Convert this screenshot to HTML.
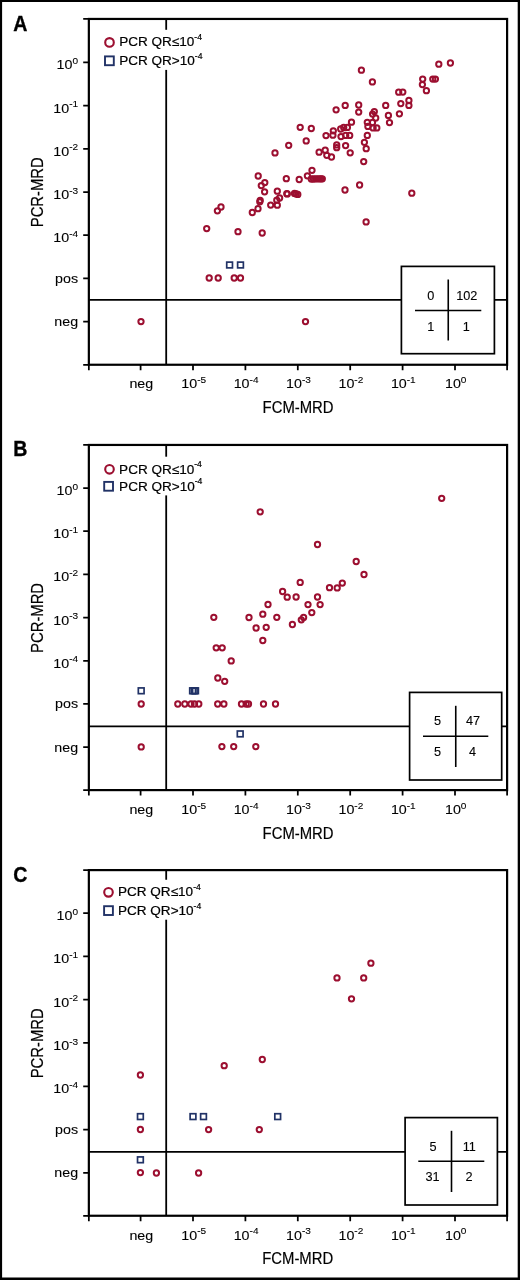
<!DOCTYPE html>
<html lang="en"><head><meta charset="utf-8"><title>PCR-MRD vs FCM-MRD</title>
<style>html,body{margin:0;padding:0;background:#fff}svg{display:block}text{font-family:'Liberation Sans', sans-serif;fill:#000}</style></head><body>
<svg width="520" height="1280" viewBox="0 0 520 1280">
<rect x="0" y="0" width="520" height="1280" fill="#fff"/>
<rect x="0" y="0" width="520" height="2" fill="#000"/>
<rect x="0" y="0" width="2.1" height="1280" fill="#000"/>
<rect x="517.7" y="0" width="2.3" height="1280" fill="#000"/>
<rect x="0" y="1277.5" width="520" height="2.5" fill="#000"/>
<g>
<text transform="translate(13.3 30.9) scale(0.92 1)" font-size="21.3" text-anchor="start" font-weight="bold" stroke="#000" stroke-width="0.35">A</text>
<line x1="88.85" y1="299.9" x2="507.1" y2="299.9" stroke="#000" stroke-width="1.8"/>
<line x1="166.2" y1="18.95" x2="166.2" y2="364.75" stroke="#000" stroke-width="1.8"/>
<rect x="100" y="29.8" width="112" height="40.1" fill="#fff"/>
<rect x="88.85" y="18.95" width="418.25" height="345.8" fill="none" stroke="#000" stroke-width="2.2"/>
<path d="M83.2 18.95H88.85M83.2 62.4H88.85M83.2 105.6H88.85M83.2 148.8H88.85M83.2 192H88.85M83.2 235.2H88.85M83.2 278.4H88.85M83.2 321.6H88.85M83.2 364.75H88.85" stroke="#000" stroke-width="1.75" fill="none"/>
<path d="M88.85 364.75V370.15M140.6 364.75V370.15M193 364.75V370.15M245.4 364.75V370.15M297.8 364.75V370.15M350.2 364.75V370.15M402.6 364.75V370.15M455 364.75V370.15M507.1 364.75V370.15" stroke="#000" stroke-width="1.75" fill="none"/>
<text transform="translate(78.1 69.4) scale(1.05 1)" font-size="13.6" text-anchor="end" stroke="#000" stroke-width="0.1">10<tspan font-size="9.6" dy="-5.4">0</tspan></text>
<text transform="translate(78.1 112.6) scale(1.05 1)" font-size="13.6" text-anchor="end" stroke="#000" stroke-width="0.1">10<tspan font-size="9.6" dy="-5.4">-1</tspan></text>
<text transform="translate(78.1 155.8) scale(1.05 1)" font-size="13.6" text-anchor="end" stroke="#000" stroke-width="0.1">10<tspan font-size="9.6" dy="-5.4">-2</tspan></text>
<text transform="translate(78.1 199) scale(1.05 1)" font-size="13.6" text-anchor="end" stroke="#000" stroke-width="0.1">10<tspan font-size="9.6" dy="-5.4">-3</tspan></text>
<text transform="translate(78.1 242.2) scale(1.05 1)" font-size="13.6" text-anchor="end" stroke="#000" stroke-width="0.1">10<tspan font-size="9.6" dy="-5.4">-4</tspan></text>
<text transform="translate(78.1 282.8) scale(1.05 1)" font-size="13.6" text-anchor="end" stroke="#000" stroke-width="0.1">pos</text>
<text transform="translate(78.1 326) scale(1.05 1)" font-size="13.6" text-anchor="end" stroke="#000" stroke-width="0.1">neg</text>
<text transform="translate(141.3 388.3) scale(1.05 1)" font-size="13.6" text-anchor="middle" stroke="#000" stroke-width="0.1">neg</text>
<text transform="translate(193.7 388.3) scale(1.05 1)" font-size="13.6" text-anchor="middle" stroke="#000" stroke-width="0.1">10<tspan font-size="9.6" dy="-5.4">-5</tspan></text>
<text transform="translate(246.1 388.3) scale(1.05 1)" font-size="13.6" text-anchor="middle" stroke="#000" stroke-width="0.1">10<tspan font-size="9.6" dy="-5.4">-4</tspan></text>
<text transform="translate(298.5 388.3) scale(1.05 1)" font-size="13.6" text-anchor="middle" stroke="#000" stroke-width="0.1">10<tspan font-size="9.6" dy="-5.4">-3</tspan></text>
<text transform="translate(350.9 388.3) scale(1.05 1)" font-size="13.6" text-anchor="middle" stroke="#000" stroke-width="0.1">10<tspan font-size="9.6" dy="-5.4">-2</tspan></text>
<text transform="translate(403.3 388.3) scale(1.05 1)" font-size="13.6" text-anchor="middle" stroke="#000" stroke-width="0.1">10<tspan font-size="9.6" dy="-5.4">-1</tspan></text>
<text transform="translate(455.7 388.3) scale(1.05 1)" font-size="13.6" text-anchor="middle" stroke="#000" stroke-width="0.1">10<tspan font-size="9.6" dy="-5.4">0</tspan></text>
<text x="298.1" y="412.55" font-size="17.3" text-anchor="middle" textLength="71" lengthAdjust="spacingAndGlyphs" stroke="#000" stroke-width="0.2">FCM-MRD</text>
<text transform="translate(43 192.25) rotate(-90)" font-size="17.2" text-anchor="middle" textLength="70" lengthAdjust="spacingAndGlyphs" stroke="#000" stroke-width="0.2">PCR-MRD</text>
<circle cx="109.5" cy="42.4" r="4.3" fill="none" stroke="#9c0f30" stroke-width="2.1"/>
<rect x="105" y="56.4" width="8.8" height="8.8" fill="none" stroke="#213266" stroke-width="1.9"/>
<text transform="translate(119.2 46.05) scale(1.05 1)" font-size="12.9" text-anchor="start" stroke="#000" stroke-width="0.2">PCR QR≤10<tspan font-size="8.2" dy="-6.5">-4</tspan></text>
<text transform="translate(119.2 65) scale(1.05 1)" font-size="12.9" text-anchor="start" stroke="#000" stroke-width="0.2">PCR QR&gt;10<tspan font-size="8.2" dy="-6.5">-4</tspan></text>
<g fill="none" stroke="#9c0f30" stroke-width="2">
<circle cx="141" cy="321.6" r="2.65"/>
<circle cx="305.5" cy="321.6" r="2.65"/>
<circle cx="209.2" cy="278" r="2.65"/>
<circle cx="218.2" cy="278" r="2.65"/>
<circle cx="234.2" cy="278" r="2.65"/>
<circle cx="240.5" cy="278" r="2.65"/>
<circle cx="206.7" cy="228.6" r="2.65"/>
<circle cx="238" cy="231.7" r="2.65"/>
<circle cx="262.2" cy="233" r="2.65"/>
<circle cx="221" cy="207" r="2.65"/>
<circle cx="217.4" cy="210.8" r="2.65"/>
<circle cx="252.3" cy="212.5" r="2.65"/>
<circle cx="258" cy="208.7" r="2.65"/>
<circle cx="260.2" cy="200.3" r="2.65"/>
<circle cx="259.8" cy="201.8" r="2.65"/>
<circle cx="270.7" cy="205.1" r="2.65"/>
<circle cx="277.3" cy="205.2" r="2.65"/>
<circle cx="276.8" cy="200.2" r="2.65"/>
<circle cx="279.6" cy="198" r="2.65"/>
<circle cx="277.3" cy="191.2" r="2.65"/>
<circle cx="264.6" cy="191.8" r="2.65"/>
<circle cx="261.3" cy="185.6" r="2.65"/>
<circle cx="264.8" cy="182.6" r="2.65"/>
<circle cx="258.2" cy="176" r="2.65"/>
<circle cx="275" cy="152.9" r="2.65"/>
<circle cx="286.3" cy="178.7" r="2.65"/>
<circle cx="299.2" cy="179.5" r="2.65"/>
<circle cx="286.8" cy="193.7" r="2.65"/>
<circle cx="287.3" cy="193.9" r="2.65"/>
<circle cx="294.5" cy="193.4" r="2.65"/>
<circle cx="296.2" cy="193.9" r="2.65"/>
<circle cx="297.8" cy="194.4" r="2.65"/>
<circle cx="307.4" cy="175.8" r="2.65"/>
<circle cx="312" cy="170.3" r="2.65"/>
<circle cx="311.3" cy="179" r="2.65"/>
<circle cx="313.5" cy="179" r="2.65"/>
<circle cx="315.6" cy="178.8" r="2.65"/>
<circle cx="317.5" cy="178.8" r="2.65"/>
<circle cx="319.4" cy="178.8" r="2.65"/>
<circle cx="321" cy="178.8" r="2.65"/>
<circle cx="322.3" cy="178.8" r="2.65"/>
<circle cx="345" cy="190" r="2.65"/>
<circle cx="359.6" cy="185" r="2.65"/>
<circle cx="411.8" cy="193.2" r="2.65"/>
<circle cx="366.1" cy="221.9" r="2.65"/>
<circle cx="363.7" cy="161.6" r="2.65"/>
<circle cx="350.2" cy="152.8" r="2.65"/>
<circle cx="331.5" cy="157" r="2.65"/>
<circle cx="326.8" cy="155.3" r="2.65"/>
<circle cx="319.1" cy="152.2" r="2.65"/>
<circle cx="325.2" cy="150.2" r="2.65"/>
<circle cx="336.7" cy="144.9" r="2.65"/>
<circle cx="336.7" cy="147.7" r="2.65"/>
<circle cx="345.6" cy="145.6" r="2.65"/>
<circle cx="366.2" cy="148.7" r="2.65"/>
<circle cx="364.4" cy="142.3" r="2.65"/>
<circle cx="288.7" cy="145.3" r="2.65"/>
<circle cx="306.2" cy="140.9" r="2.65"/>
<circle cx="300.2" cy="127.3" r="2.65"/>
<circle cx="311.3" cy="128.5" r="2.65"/>
<circle cx="326" cy="135.6" r="2.65"/>
<circle cx="333.3" cy="130.8" r="2.65"/>
<circle cx="332.9" cy="135.2" r="2.65"/>
<circle cx="340.7" cy="129" r="2.65"/>
<circle cx="343.7" cy="127.5" r="2.65"/>
<circle cx="347.4" cy="127.4" r="2.65"/>
<circle cx="341" cy="136.6" r="2.65"/>
<circle cx="345.7" cy="135.4" r="2.65"/>
<circle cx="349.7" cy="135.4" r="2.65"/>
<circle cx="351.5" cy="122.2" r="2.65"/>
<circle cx="336.1" cy="109.8" r="2.65"/>
<circle cx="345.2" cy="105.4" r="2.65"/>
<circle cx="358.7" cy="105" r="2.65"/>
<circle cx="358.7" cy="112.1" r="2.65"/>
<circle cx="361.4" cy="70.2" r="2.65"/>
<circle cx="372.4" cy="81.9" r="2.65"/>
<circle cx="374.3" cy="111.6" r="2.65"/>
<circle cx="372.6" cy="114.1" r="2.65"/>
<circle cx="375.7" cy="118" r="2.65"/>
<circle cx="367.3" cy="122.3" r="2.65"/>
<circle cx="372.5" cy="122.5" r="2.65"/>
<circle cx="367.9" cy="126.4" r="2.65"/>
<circle cx="373.1" cy="127.9" r="2.65"/>
<circle cx="376.8" cy="127.9" r="2.65"/>
<circle cx="367.3" cy="135.4" r="2.65"/>
<circle cx="385.7" cy="105.4" r="2.65"/>
<circle cx="388.4" cy="115.4" r="2.65"/>
<circle cx="389.5" cy="122.6" r="2.65"/>
<circle cx="398.7" cy="92.2" r="2.65"/>
<circle cx="402.8" cy="92.1" r="2.65"/>
<circle cx="400.8" cy="103.6" r="2.65"/>
<circle cx="399.4" cy="113.8" r="2.65"/>
<circle cx="408.9" cy="100.5" r="2.65"/>
<circle cx="408.9" cy="105.4" r="2.65"/>
<circle cx="422.7" cy="79.1" r="2.65"/>
<circle cx="422.4" cy="84.6" r="2.65"/>
<circle cx="426.4" cy="90.7" r="2.65"/>
<circle cx="432.8" cy="79.1" r="2.65"/>
<circle cx="435.4" cy="79.1" r="2.65"/>
<circle cx="438.8" cy="64.2" r="2.65"/>
<circle cx="450.4" cy="63" r="2.65"/>
</g>
<g fill="none" stroke="#213266" stroke-width="1.7">
<rect x="226.72" y="262.12" width="5.75" height="5.75"/>
<rect x="237.62" y="262.12" width="5.75" height="5.75"/>
</g>
<rect x="401.4" y="266.4" width="93" height="87.3" fill="#fff" stroke="#000" stroke-width="1.7"/>
<line x1="448.25" y1="279.5" x2="448.25" y2="340.5" stroke="#000" stroke-width="1.6"/>
<line x1="415" y1="310.5" x2="481.3" y2="310.5" stroke="#000" stroke-width="1.6"/>
<text transform="translate(430.8 300) scale(1.06 1)" font-size="12" text-anchor="middle" stroke="#000" stroke-width="0.1">0</text>
<text transform="translate(466.8 300) scale(1.06 1)" font-size="12" text-anchor="middle" stroke="#000" stroke-width="0.1">102</text>
<text transform="translate(430.8 330.5) scale(1.06 1)" font-size="12" text-anchor="middle" stroke="#000" stroke-width="0.1">1</text>
<text transform="translate(466.3 330.5) scale(1.06 1)" font-size="12" text-anchor="middle" stroke="#000" stroke-width="0.1">1</text>
</g>
<g>
<text transform="translate(13.3 456) scale(0.92 1)" font-size="21.3" text-anchor="start" font-weight="bold" stroke="#000" stroke-width="0.35">B</text>
<line x1="88.85" y1="726.45" x2="507.1" y2="726.45" stroke="#000" stroke-width="1.8"/>
<line x1="166.2" y1="444.95" x2="166.2" y2="790.1" stroke="#000" stroke-width="1.8"/>
<rect x="100" y="456.7" width="112" height="38.7" fill="#fff"/>
<rect x="88.85" y="444.95" width="418.25" height="345.15" fill="none" stroke="#000" stroke-width="2.2"/>
<path d="M83.2 444.95H88.85M83.2 488.05H88.85M83.2 531.23H88.85M83.2 574.41H88.85M83.2 617.59H88.85M83.2 660.77H88.85M83.2 703.95H88.85M83.2 747.13H88.85M83.2 790.1H88.85" stroke="#000" stroke-width="1.75" fill="none"/>
<path d="M88.85 790.1V795.5M140.6 790.1V795.5M193 790.1V795.5M245.4 790.1V795.5M297.8 790.1V795.5M350.2 790.1V795.5M402.6 790.1V795.5M455 790.1V795.5M507.1 790.1V795.5" stroke="#000" stroke-width="1.75" fill="none"/>
<text transform="translate(78.1 495.05) scale(1.05 1)" font-size="13.6" text-anchor="end" stroke="#000" stroke-width="0.1">10<tspan font-size="9.6" dy="-5.4">0</tspan></text>
<text transform="translate(78.1 538.23) scale(1.05 1)" font-size="13.6" text-anchor="end" stroke="#000" stroke-width="0.1">10<tspan font-size="9.6" dy="-5.4">-1</tspan></text>
<text transform="translate(78.1 581.41) scale(1.05 1)" font-size="13.6" text-anchor="end" stroke="#000" stroke-width="0.1">10<tspan font-size="9.6" dy="-5.4">-2</tspan></text>
<text transform="translate(78.1 624.59) scale(1.05 1)" font-size="13.6" text-anchor="end" stroke="#000" stroke-width="0.1">10<tspan font-size="9.6" dy="-5.4">-3</tspan></text>
<text transform="translate(78.1 667.77) scale(1.05 1)" font-size="13.6" text-anchor="end" stroke="#000" stroke-width="0.1">10<tspan font-size="9.6" dy="-5.4">-4</tspan></text>
<text transform="translate(78.1 708.35) scale(1.05 1)" font-size="13.6" text-anchor="end" stroke="#000" stroke-width="0.1">pos</text>
<text transform="translate(78.1 751.53) scale(1.05 1)" font-size="13.6" text-anchor="end" stroke="#000" stroke-width="0.1">neg</text>
<text transform="translate(141.3 814.35) scale(1.05 1)" font-size="13.6" text-anchor="middle" stroke="#000" stroke-width="0.1">neg</text>
<text transform="translate(193.7 814.35) scale(1.05 1)" font-size="13.6" text-anchor="middle" stroke="#000" stroke-width="0.1">10<tspan font-size="9.6" dy="-5.4">-5</tspan></text>
<text transform="translate(246.1 814.35) scale(1.05 1)" font-size="13.6" text-anchor="middle" stroke="#000" stroke-width="0.1">10<tspan font-size="9.6" dy="-5.4">-4</tspan></text>
<text transform="translate(298.5 814.35) scale(1.05 1)" font-size="13.6" text-anchor="middle" stroke="#000" stroke-width="0.1">10<tspan font-size="9.6" dy="-5.4">-3</tspan></text>
<text transform="translate(350.9 814.35) scale(1.05 1)" font-size="13.6" text-anchor="middle" stroke="#000" stroke-width="0.1">10<tspan font-size="9.6" dy="-5.4">-2</tspan></text>
<text transform="translate(403.3 814.35) scale(1.05 1)" font-size="13.6" text-anchor="middle" stroke="#000" stroke-width="0.1">10<tspan font-size="9.6" dy="-5.4">-1</tspan></text>
<text transform="translate(455.7 814.35) scale(1.05 1)" font-size="13.6" text-anchor="middle" stroke="#000" stroke-width="0.1">10<tspan font-size="9.6" dy="-5.4">0</tspan></text>
<text x="298.1" y="838.8" font-size="17.3" text-anchor="middle" textLength="71" lengthAdjust="spacingAndGlyphs" stroke="#000" stroke-width="0.2">FCM-MRD</text>
<text transform="translate(43 617.92) rotate(-90)" font-size="17.2" text-anchor="middle" textLength="70" lengthAdjust="spacingAndGlyphs" stroke="#000" stroke-width="0.2">PCR-MRD</text>
<circle cx="109.5" cy="469.3" r="4.3" fill="none" stroke="#9c0f30" stroke-width="2.1"/>
<rect x="104.2" y="481.9" width="8.8" height="8.8" fill="none" stroke="#213266" stroke-width="1.9"/>
<text transform="translate(119.1 473.5) scale(1.05 1)" font-size="12.9" text-anchor="start" stroke="#000" stroke-width="0.2">PCR QR≤10<tspan font-size="8.2" dy="-6.5">-4</tspan></text>
<text transform="translate(119.1 490.5) scale(1.05 1)" font-size="12.9" text-anchor="start" stroke="#000" stroke-width="0.2">PCR QR&gt;10<tspan font-size="8.2" dy="-6.5">-4</tspan></text>
<g fill="none" stroke="#9c0f30" stroke-width="2">
<circle cx="141.2" cy="704" r="2.65"/>
<circle cx="141.2" cy="746.9" r="2.65"/>
<circle cx="177.8" cy="704" r="2.65"/>
<circle cx="184.8" cy="704" r="2.65"/>
<circle cx="191" cy="704" r="2.65"/>
<circle cx="194.5" cy="704" r="2.65"/>
<circle cx="198.8" cy="704" r="2.65"/>
<circle cx="217.7" cy="704" r="2.65"/>
<circle cx="223.9" cy="704" r="2.65"/>
<circle cx="241.5" cy="704" r="2.65"/>
<circle cx="246.2" cy="704" r="2.65"/>
<circle cx="248.5" cy="704" r="2.65"/>
<circle cx="263.5" cy="704" r="2.65"/>
<circle cx="275.5" cy="704" r="2.65"/>
<circle cx="221.9" cy="746.6" r="2.65"/>
<circle cx="233.7" cy="746.6" r="2.65"/>
<circle cx="255.8" cy="746.6" r="2.65"/>
<circle cx="217.8" cy="678" r="2.65"/>
<circle cx="224.7" cy="681.3" r="2.65"/>
<circle cx="231.2" cy="660.9" r="2.65"/>
<circle cx="216.2" cy="647.8" r="2.65"/>
<circle cx="222.2" cy="647.8" r="2.65"/>
<circle cx="213.8" cy="617.3" r="2.65"/>
<circle cx="249" cy="617.5" r="2.65"/>
<circle cx="262.8" cy="614.2" r="2.65"/>
<circle cx="268" cy="604.5" r="2.65"/>
<circle cx="276.8" cy="617.3" r="2.65"/>
<circle cx="256.1" cy="628" r="2.65"/>
<circle cx="266.2" cy="627.3" r="2.65"/>
<circle cx="262.8" cy="640.5" r="2.65"/>
<circle cx="292.4" cy="624.5" r="2.65"/>
<circle cx="301.3" cy="619.8" r="2.65"/>
<circle cx="303.6" cy="617.4" r="2.65"/>
<circle cx="311.8" cy="612.6" r="2.65"/>
<circle cx="308" cy="604.6" r="2.65"/>
<circle cx="320.1" cy="604.6" r="2.65"/>
<circle cx="317.5" cy="597" r="2.65"/>
<circle cx="296.1" cy="597" r="2.65"/>
<circle cx="287.2" cy="597.2" r="2.65"/>
<circle cx="282.6" cy="591.5" r="2.65"/>
<circle cx="300.2" cy="582.4" r="2.65"/>
<circle cx="329.5" cy="587.7" r="2.65"/>
<circle cx="337.2" cy="587.9" r="2.65"/>
<circle cx="342.3" cy="583.1" r="2.65"/>
<circle cx="356.2" cy="561.5" r="2.65"/>
<circle cx="364" cy="574.5" r="2.65"/>
<circle cx="317.5" cy="544.5" r="2.65"/>
<circle cx="260.2" cy="511.8" r="2.65"/>
<circle cx="441.7" cy="498.3" r="2.65"/>
</g>
<g fill="none" stroke="#213266" stroke-width="1.7">
<rect x="138.32" y="687.92" width="5.75" height="5.75"/>
<rect x="189.72" y="687.92" width="5.75" height="5.75"/>
<rect x="191.32" y="687.92" width="5.75" height="5.75"/>
<rect x="192.62" y="687.92" width="5.75" height="5.75"/>
<rect x="237.32" y="731.02" width="5.75" height="5.75"/>
</g>
<rect x="409.6" y="692.4" width="92.1" height="87.6" fill="#fff" stroke="#000" stroke-width="1.7"/>
<line x1="455.75" y1="705.8" x2="455.75" y2="767" stroke="#000" stroke-width="1.6"/>
<line x1="423" y1="736.25" x2="488.3" y2="736.25" stroke="#000" stroke-width="1.6"/>
<text transform="translate(437.5 725) scale(1.06 1)" font-size="12" text-anchor="middle" stroke="#000" stroke-width="0.1">5</text>
<text transform="translate(473 725) scale(1.06 1)" font-size="12" text-anchor="middle" stroke="#000" stroke-width="0.1">47</text>
<text transform="translate(437.5 756.2) scale(1.06 1)" font-size="12" text-anchor="middle" stroke="#000" stroke-width="0.1">5</text>
<text transform="translate(472.5 756.2) scale(1.06 1)" font-size="12" text-anchor="middle" stroke="#000" stroke-width="0.1">4</text>
</g>
<g>
<text transform="translate(13.3 882.4) scale(0.92 1)" font-size="21.3" text-anchor="start" font-weight="bold" stroke="#000" stroke-width="0.35">C</text>
<line x1="88.85" y1="1151.95" x2="507.1" y2="1151.95" stroke="#000" stroke-width="1.8"/>
<line x1="166.2" y1="870.1" x2="166.2" y2="1215.75" stroke="#000" stroke-width="1.8"/>
<rect x="100" y="879.75" width="112" height="39.95" fill="#fff"/>
<rect x="88.85" y="870.1" width="418.25" height="345.65" fill="none" stroke="#000" stroke-width="2.2"/>
<path d="M83.2 870.1H88.85M83.2 913.1H88.85M83.2 956.39H88.85M83.2 999.68H88.85M83.2 1042.97H88.85M83.2 1086.26H88.85M83.2 1129.55H88.85M83.2 1172.84H88.85M83.2 1215.75H88.85" stroke="#000" stroke-width="1.75" fill="none"/>
<path d="M88.85 1215.75V1221.15M140.6 1215.75V1221.15M193 1215.75V1221.15M245.4 1215.75V1221.15M297.8 1215.75V1221.15M350.2 1215.75V1221.15M402.6 1215.75V1221.15M455 1215.75V1221.15M507.1 1215.75V1221.15" stroke="#000" stroke-width="1.75" fill="none"/>
<text transform="translate(78.1 920.1) scale(1.05 1)" font-size="13.6" text-anchor="end" stroke="#000" stroke-width="0.1">10<tspan font-size="9.6" dy="-5.4">0</tspan></text>
<text transform="translate(78.1 963.39) scale(1.05 1)" font-size="13.6" text-anchor="end" stroke="#000" stroke-width="0.1">10<tspan font-size="9.6" dy="-5.4">-1</tspan></text>
<text transform="translate(78.1 1006.68) scale(1.05 1)" font-size="13.6" text-anchor="end" stroke="#000" stroke-width="0.1">10<tspan font-size="9.6" dy="-5.4">-2</tspan></text>
<text transform="translate(78.1 1049.97) scale(1.05 1)" font-size="13.6" text-anchor="end" stroke="#000" stroke-width="0.1">10<tspan font-size="9.6" dy="-5.4">-3</tspan></text>
<text transform="translate(78.1 1093.26) scale(1.05 1)" font-size="13.6" text-anchor="end" stroke="#000" stroke-width="0.1">10<tspan font-size="9.6" dy="-5.4">-4</tspan></text>
<text transform="translate(78.1 1133.95) scale(1.05 1)" font-size="13.6" text-anchor="end" stroke="#000" stroke-width="0.1">pos</text>
<text transform="translate(78.1 1177.24) scale(1.05 1)" font-size="13.6" text-anchor="end" stroke="#000" stroke-width="0.1">neg</text>
<text transform="translate(141.3 1239.5) scale(1.05 1)" font-size="13.6" text-anchor="middle" stroke="#000" stroke-width="0.1">neg</text>
<text transform="translate(193.7 1239.5) scale(1.05 1)" font-size="13.6" text-anchor="middle" stroke="#000" stroke-width="0.1">10<tspan font-size="9.6" dy="-5.4">-5</tspan></text>
<text transform="translate(246.1 1239.5) scale(1.05 1)" font-size="13.6" text-anchor="middle" stroke="#000" stroke-width="0.1">10<tspan font-size="9.6" dy="-5.4">-4</tspan></text>
<text transform="translate(298.5 1239.5) scale(1.05 1)" font-size="13.6" text-anchor="middle" stroke="#000" stroke-width="0.1">10<tspan font-size="9.6" dy="-5.4">-3</tspan></text>
<text transform="translate(350.9 1239.5) scale(1.05 1)" font-size="13.6" text-anchor="middle" stroke="#000" stroke-width="0.1">10<tspan font-size="9.6" dy="-5.4">-2</tspan></text>
<text transform="translate(403.3 1239.5) scale(1.05 1)" font-size="13.6" text-anchor="middle" stroke="#000" stroke-width="0.1">10<tspan font-size="9.6" dy="-5.4">-1</tspan></text>
<text transform="translate(455.7 1239.5) scale(1.05 1)" font-size="13.6" text-anchor="middle" stroke="#000" stroke-width="0.1">10<tspan font-size="9.6" dy="-5.4">0</tspan></text>
<text x="297.7" y="1264.2" font-size="17.3" text-anchor="middle" textLength="71" lengthAdjust="spacingAndGlyphs" stroke="#000" stroke-width="0.2">FCM-MRD</text>
<text transform="translate(43 1043.33) rotate(-90)" font-size="17.2" text-anchor="middle" textLength="70" lengthAdjust="spacingAndGlyphs" stroke="#000" stroke-width="0.2">PCR-MRD</text>
<circle cx="108.5" cy="892.35" r="4.3" fill="none" stroke="#9c0f30" stroke-width="2.1"/>
<rect x="104.1" y="906.2" width="8.8" height="8.8" fill="none" stroke="#213266" stroke-width="1.9"/>
<text transform="translate(118 896.4) scale(1.05 1)" font-size="12.9" text-anchor="start" stroke="#000" stroke-width="0.2">PCR QR≤10<tspan font-size="8.2" dy="-6.5">-4</tspan></text>
<text transform="translate(118 915.1) scale(1.05 1)" font-size="12.9" text-anchor="start" stroke="#000" stroke-width="0.2">PCR QR&gt;10<tspan font-size="8.2" dy="-6.5">-4</tspan></text>
<g fill="none" stroke="#9c0f30" stroke-width="2">
<circle cx="140.4" cy="1075" r="2.65"/>
<circle cx="140.4" cy="1129.5" r="2.65"/>
<circle cx="140.4" cy="1172.6" r="2.65"/>
<circle cx="156.4" cy="1173" r="2.65"/>
<circle cx="198.6" cy="1173" r="2.65"/>
<circle cx="208.6" cy="1129.6" r="2.65"/>
<circle cx="259.3" cy="1129.6" r="2.65"/>
<circle cx="224.2" cy="1065.7" r="2.65"/>
<circle cx="262.3" cy="1059.5" r="2.65"/>
<circle cx="370.9" cy="963.2" r="2.65"/>
<circle cx="337" cy="977.9" r="2.65"/>
<circle cx="363.7" cy="977.9" r="2.65"/>
<circle cx="351.5" cy="998.8" r="2.65"/>
</g>
<g fill="none" stroke="#213266" stroke-width="1.7">
<rect x="137.53" y="1113.72" width="5.75" height="5.75"/>
<rect x="137.53" y="1156.92" width="5.75" height="5.75"/>
<rect x="190.12" y="1113.72" width="5.75" height="5.75"/>
<rect x="200.62" y="1113.72" width="5.75" height="5.75"/>
<rect x="274.82" y="1113.72" width="5.75" height="5.75"/>
</g>
<rect x="405.1" y="1117.6" width="92.3" height="87.4" fill="#fff" stroke="#000" stroke-width="1.7"/>
<line x1="451.5" y1="1130.8" x2="451.5" y2="1192" stroke="#000" stroke-width="1.6"/>
<line x1="418.3" y1="1161.25" x2="484.3" y2="1161.25" stroke="#000" stroke-width="1.6"/>
<text transform="translate(433 1150.5) scale(1.06 1)" font-size="12" text-anchor="middle" stroke="#000" stroke-width="0.1">5</text>
<text transform="translate(469.3 1150.5) scale(1.06 1)" font-size="12" text-anchor="middle" stroke="#000" stroke-width="0.1">11</text>
<text transform="translate(432.5 1181.2) scale(1.06 1)" font-size="12" text-anchor="middle" stroke="#000" stroke-width="0.1">31</text>
<text transform="translate(469 1181.2) scale(1.06 1)" font-size="12" text-anchor="middle" stroke="#000" stroke-width="0.1">2</text>
</g>
</svg></body></html>
